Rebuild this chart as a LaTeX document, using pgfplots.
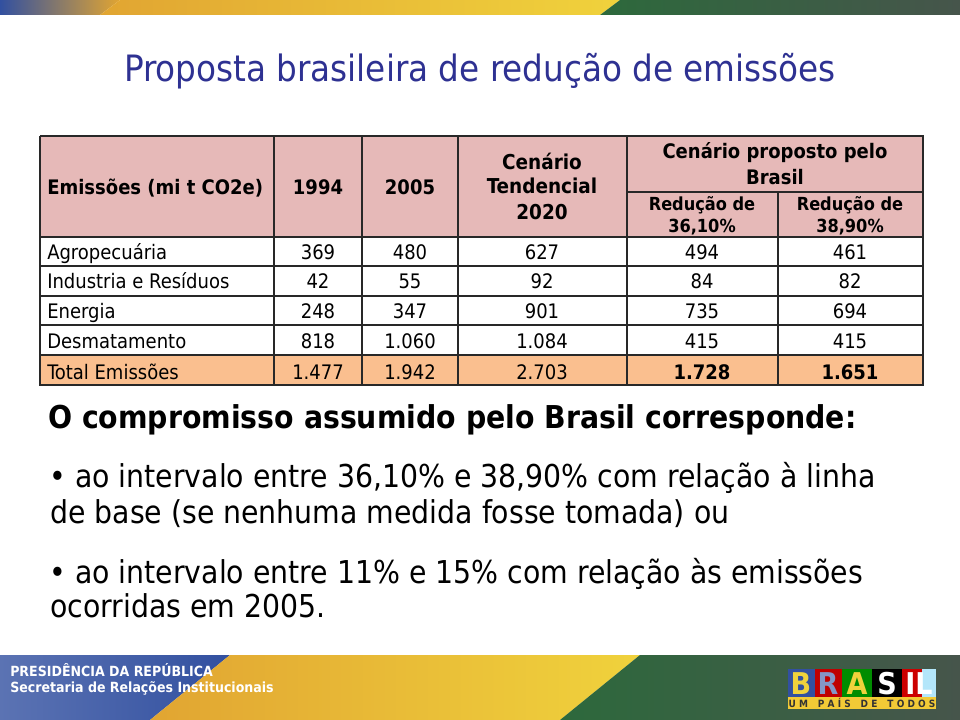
\documentclass[border=0pt]{standalone}
\usepackage{pgfplots}
\pgfplotsset{compat=1.18}
\usepackage{fontspec}
\setmainfont{DejaVu Sans}
\newfontfamily\cond{DejaVu Sans Condensed}
% sizes are given in pixels of the 960x720 slide, 1px = 0.75pt
\newcommand\px[1]{\pgfmathsetlengthmacro\fsz{#1*0.75}\pgfmathsetlengthmacro\fsb{#1*0.9}\fontsize{\fsz}{\fsb}\selectfont}
% one body row: baseline, name, five values
\newcommand\trow[7]{%
  \node[anchor=base west, inner sep=0pt] at (axis cs:47,#1) {\cond\px{20}#2};
  \node[anchor=base, inner sep=0pt] at (axis cs:318,#1) {\cond\px{20}#3};
  \node[anchor=base, inner sep=0pt] at (axis cs:410,#1) {\cond\px{20}#4};
  \node[anchor=base, inner sep=0pt] at (axis cs:542,#1) {\cond\px{20}#5};
  \node[anchor=base, inner sep=0pt] at (axis cs:702,#1) {\cond\px{20}#6};
  \node[anchor=base, inner sep=0pt] at (axis cs:850,#1) {\cond\px{20}#7};}
\definecolor{titleblue}{RGB}{46,49,146}
\definecolor{headpink}{RGB}{230,185,184}
\definecolor{totpeach}{RGB}{250,191,143}
\definecolor{gridc}{RGB}{40,40,40}
\definecolor{flagblue}{RGB}{50,80,160}
\definecolor{flagyel}{RGB}{240,210,60}
\definecolor{flagorg}{RGB}{225,165,50}
\definecolor{flaggreen}{RGB}{45,105,60}
\definecolor{flagdark}{RGB}{70,85,75}
\begin{document}
\begin{tikzpicture}
\begin{axis}[hide axis, scale only axis, width=720pt, height=540pt,
  xmin=0, xmax=960, ymin=0, ymax=720, y dir=reverse, clip=false]
% page background
\addplot[fill=white, draw=none] coordinates {(0,0) (960,0) (960,720) (0,720)} --cycle;
% top banner
\addplot[draw=none, left color=flagblue, right color=flagorg] coordinates {(0,0) (120,0) (100,15) (0,15)} --cycle;
\addplot[draw=none, left color=flagorg, right color=flagyel] coordinates {(120,0) (620,0) (600,15) (100,15)} --cycle;
\addplot[draw=none, left color=flaggreen, right color=flagdark] coordinates {(620,0) (960,0) (960,15) (600,15)} --cycle;
% bottom banner
\addplot[draw=none, left color=flagblue!80!white, right color=flagblue] coordinates {(0,655) (230,655) (150,720) (0,720)} --cycle;
\addplot[draw=none, left color=flagorg, right color=flagyel] coordinates {(230,655) (640,655) (560,720) (150,720)} --cycle;
\addplot[draw=none, left color=flaggreen, right color=flagdark] coordinates {(640,655) (960,655) (960,720) (560,720)} --cycle;
% logo
\addplot[draw=none, fill=flagblue] coordinates {(788,669) (815,669) (815,697) (788,697)} --cycle;
\addplot[draw=none, fill=red!75!black] coordinates {(815,669) (842,669) (842,697) (815,697)} --cycle;
\addplot[draw=none, fill=green!55!black] coordinates {(842,669) (872,669) (872,697) (842,697)} --cycle;
\addplot[draw=none, fill=black] coordinates {(872,669) (902,669) (902,697) (872,697)} --cycle;
\addplot[draw=none, fill=red!80!black] coordinates {(902,669) (922,669) (922,697) (902,697)} --cycle;
\addplot[draw=none, fill=cyan!30] coordinates {(922,669) (936,669) (936,697) (922,697)} --cycle;
\addplot[draw=none, fill=flagyel!90!orange] coordinates {(788,697) (936,697) (936,709) (788,709)} --cycle;
\node[anchor=base, text=flagyel] at (axis cs:801,694) {\cond\bfseries\px{30}B};
\node[anchor=base, text=flagblue!60!white] at (axis cs:828,694) {\cond\bfseries\px{30}R};
\node[anchor=base, text=flagyel] at (axis cs:857,694) {\cond\bfseries\px{30}A};
\node[anchor=base, text=white] at (axis cs:887,694) {\cond\bfseries\px{30}S};
\node[anchor=base, text=white] at (axis cs:919,694) {\cond\bfseries\px{30}IL};
\node[anchor=base, text=black!80] at (axis cs:862,707) {\cond\bfseries\px{10}U M\quad P A Í S\quad D E\quad T O D O S};
% footer text
\node[anchor=base west, text=white, inner sep=0pt] at (axis cs:10,676) {\cond\bfseries\px{14}PRESIDÊNCIA DA REPÚBLICA};
\node[anchor=base west, text=white, inner sep=0pt] at (axis cs:10,692) {\cond\bfseries\px{14}Secretaria de Relações Institucionais};
% title
\node[anchor=base, text=titleblue, inner sep=0pt] at (axis cs:480,82) {\cond\px{36.3}Proposta brasileira de redução de emissões};
% table fills
\addplot[draw=none, fill=headpink] coordinates {(40,136) (923,136) (923,237) (40,237)} --cycle;
\addplot[draw=none, fill=totpeach] coordinates {(40,355) (923,355) (923,385) (40,385)} --cycle;
% table rules
\addplot[gridc, line width=1.3pt] coordinates {(40,136) (923,136) (923,385) (40,385) (40,136)};
\addplot[gridc, line width=1.1pt] coordinates {(40,237) (923,237)};
\addplot[gridc, line width=1.1pt] coordinates {(40,266) (923,266)};
\addplot[gridc, line width=1.1pt] coordinates {(40,296) (923,296)};
\addplot[gridc, line width=1.1pt] coordinates {(40,325) (923,325)};
\addplot[gridc, line width=1.1pt] coordinates {(40,355) (923,355)};
\addplot[gridc, line width=1.1pt] coordinates {(627,192) (923,192)};
\addplot[gridc, line width=1.1pt] coordinates {(274,136) (274,385)};
\addplot[gridc, line width=1.1pt] coordinates {(362,136) (362,385)};
\addplot[gridc, line width=1.1pt] coordinates {(458,136) (458,385)};
\addplot[gridc, line width=1.1pt] coordinates {(627,136) (627,385)};
\addplot[gridc, line width=1.1pt] coordinates {(778,192) (778,385)};
% header text
\node[anchor=base west, inner sep=0pt] at (axis cs:47,195) {\cond\bfseries\px{20}Emissões (mi t CO2e)};
\node[anchor=base, inner sep=0pt] at (axis cs:318,195) {\cond\bfseries\px{20}1994};
\node[anchor=base, inner sep=0pt] at (axis cs:410,195) {\cond\bfseries\px{20}2005};
\node[anchor=base, inner sep=0pt] at (axis cs:542,170) {\cond\bfseries\px{20.5}Cenário};
\node[anchor=base, inner sep=0pt] at (axis cs:542,194) {\cond\bfseries\px{20.5}Tendencial};
\node[anchor=base, inner sep=0pt] at (axis cs:542,220) {\cond\bfseries\px{20.5}2020};
\node[anchor=base, inner sep=0pt] at (axis cs:775,159) {\cond\bfseries\px{20}Cenário proposto pelo};
\node[anchor=base, inner sep=0pt] at (axis cs:775,185) {\cond\bfseries\px{20}Brasil};
\node[anchor=base, inner sep=0pt] at (axis cs:702,211) {\cond\bfseries\px{18}Redução de};
\node[anchor=base, inner sep=0pt] at (axis cs:702,233) {\cond\bfseries\px{18}36,10\%};
\node[anchor=base, inner sep=0pt] at (axis cs:850,211) {\cond\bfseries\px{18}Redução de};
\node[anchor=base, inner sep=0pt] at (axis cs:850,233) {\cond\bfseries\px{18}38,90\%};
% body rows
\trow{260}{Agropecuária}{369}{480}{627}{494}{461}
\trow{289}{Industria e Resíduos}{42}{55}{92}{84}{82}
\trow{319}{Energia}{248}{347}{901}{735}{694}
\trow{348}{Desmatamento}{818}{1.060}{1.084}{415}{415}
\node[anchor=base west, inner sep=0pt] at (axis cs:47,379) {\cond\px{20}Total Emissões};
\node[anchor=base, inner sep=0pt] at (axis cs:318,379) {\cond\px{20}1.477};
\node[anchor=base, inner sep=0pt] at (axis cs:410,379) {\cond\px{20}1.942};
\node[anchor=base, inner sep=0pt] at (axis cs:542,379) {\cond\px{20}2.703};
\node[anchor=base, inner sep=0pt] at (axis cs:702,379) {\cond\bfseries\px{20}1.728};
\node[anchor=base, inner sep=0pt] at (axis cs:850,379) {\cond\bfseries\px{20}1.651};
% text below
\node[anchor=base west, inner sep=0pt] at (axis cs:48,428) {\cond\bfseries\px{31.5}O compromisso assumido pelo Brasil corresponde:};
\node[anchor=base west, inner sep=0pt] at (axis cs:49,487) {\cond\px{31.5}•};
\node[anchor=base west, inner sep=0pt] at (axis cs:75,487) {\cond\px{31.5}ao intervalo entre 36,10\% e 38,90\% com relação à linha};
\node[anchor=base west, inner sep=0pt] at (axis cs:50,523) {\cond\px{31.5}de base (se nenhuma medida fosse tomada) ou};
\node[anchor=base west, inner sep=0pt] at (axis cs:49,583) {\cond\px{31.5}•};
\node[anchor=base west, inner sep=0pt] at (axis cs:75,583) {\cond\px{31.5}ao intervalo entre 11\% e 15\% com relação às emissões};
\node[anchor=base west, inner sep=0pt] at (axis cs:50,617) {\cond\px{31.5}ocorridas em 2005.};
\end{axis}
\end{tikzpicture}
\end{document}
